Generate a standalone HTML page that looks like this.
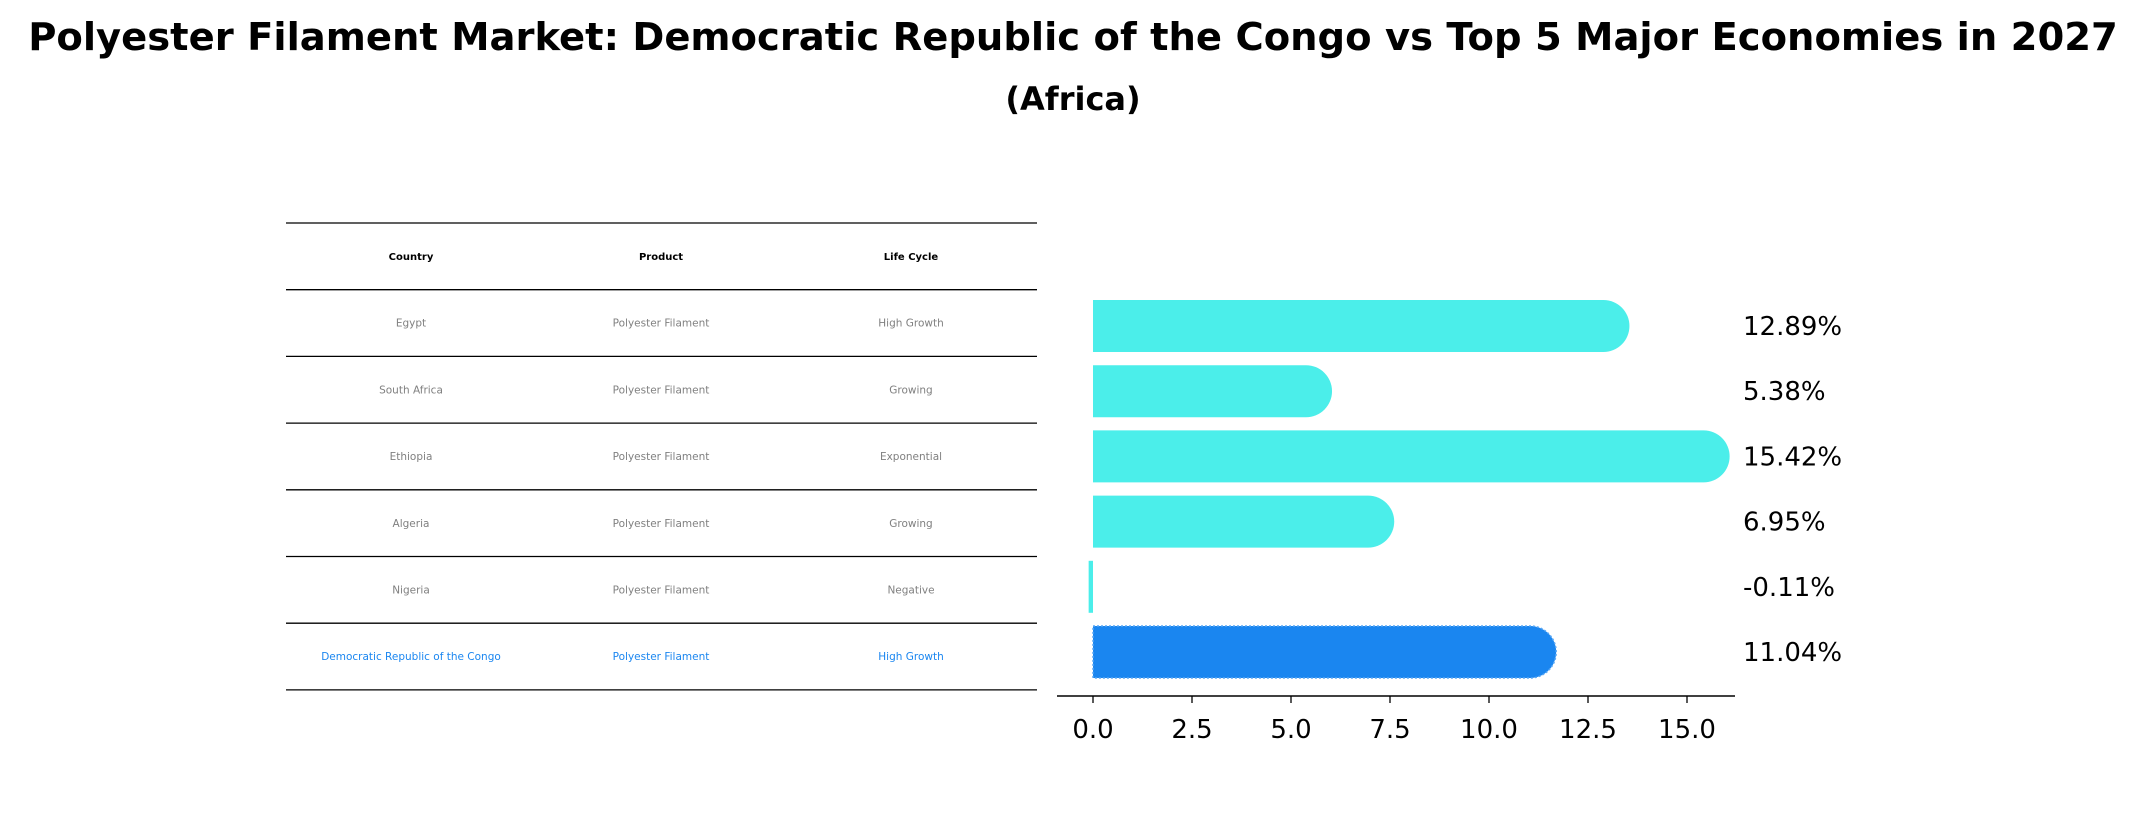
<!DOCTYPE html>
<html><head><meta charset="utf-8"><style>
body{margin:0;background:#fff;}
svg{display:block;font-family:"DejaVu Sans","Liberation Sans",sans-serif;}
</style></head><body>
<svg id="c" width="2147" height="823" viewBox="0 0 2147 823">
<text x="1073" y="50" text-anchor="middle" font-size="38.5" font-weight="bold">Polyester Filament Market: Democratic Republic of the Congo vs Top 5 Major Economies in 2027</text>
<text x="1073" y="110" text-anchor="middle" font-size="32" font-weight="bold">(Africa)</text>
<g id="table"></g>
<g id="bars"></g>
</svg>
<script>
const countries=["Egypt","South Africa","Ethiopia","Algeria","Nigeria","Democratic Republic of the Congo"];
const lifeCycles=["High Growth","Growing","Exponential","Growing","Negative","High Growth"];
const values=[12.89,5.38,15.42,6.95,-0.11,11.04];
const ticks=[0,2.5,5,7.5,10,12.5,15];
const NS="http://www.w3.org/2000/svg";
function mk(tag,attrs,parent){const e=document.createElementNS(NS,tag);for(const k in attrs)e.setAttribute(k,attrs[k]);parent.appendChild(e);return e;}
const tbl=document.getElementById('table');
const rowY=i=>223+i*66.7;
for(let i=0;i<=7;i++){const l=mk('line',{x1:286,x2:1037,y1:rowY(i),y2:rowY(i),stroke:'#000','stroke-width':1.3},tbl);

}
const cols=[411,661,911];
["Country","Product","Life Cycle"].forEach((h,j)=>{const t=mk('text',{x:cols[j],y:rowY(0)+37,'text-anchor':'middle','font-size':10,'font-weight':'bold'},tbl);t.textContent=h;

});
countries.forEach((c,i)=>{const hl=i===countries.length-1;const col=hl?'#1a86f0':'#808080';
[c,"Polyester Filament",lifeCycles[i]].forEach((v,j)=>{const t=mk('text',{x:cols[j],y:rowY(i+1)+37,'text-anchor':'middle','font-size':10.5,fill:col},tbl);t.textContent=v;

});});
const g=document.getElementById('bars');
const x0=1093,ppu=39.6;const xs=v=>x0+v*ppu;
const yc=i=>326+i*65.2;const bh=52;
values.forEach((v,i)=>{const hl=i===values.length-1;const fill=hl?'#1a86f0':'#4beeea';
const y=yc(i)-bh/2;
if(v<0.2){const w=Math.max(Math.abs(xs(v)-x0),3.5);const r=mk('rect',{x:Math.min(xs(v),x0),y:y,width:w,height:bh,fill:fill},g);

}
else{const p=mk('path',{d:`M${x0},${y} H${xs(v)} A${bh/2},${bh/2} 0 0 1 ${xs(v)},${y+bh} H${x0} Z`,fill:fill,stroke:hl?'#5aa8f5':'none','stroke-dasharray':hl?'2,2':'none','stroke-width':1.5},g);

}
const t=mk('text',{x:1743,y:yc(i)+9,'font-size':26},g);t.textContent=v.toFixed(2)+'%';

});
const ax=mk('line',{x1:1057,x2:1735,y1:696,y2:696,stroke:'#000','stroke-width':1.5},g);


ticks.forEach(tk=>{const l=mk('line',{x1:xs(tk),x2:xs(tk),y1:696,y2:703,stroke:'#000','stroke-width':1.3},g);


const t=mk('text',{x:xs(tk),y:738,'text-anchor':'middle','font-size':26},g);t.textContent=tk.toFixed(1);

});
</script>
</body></html>
